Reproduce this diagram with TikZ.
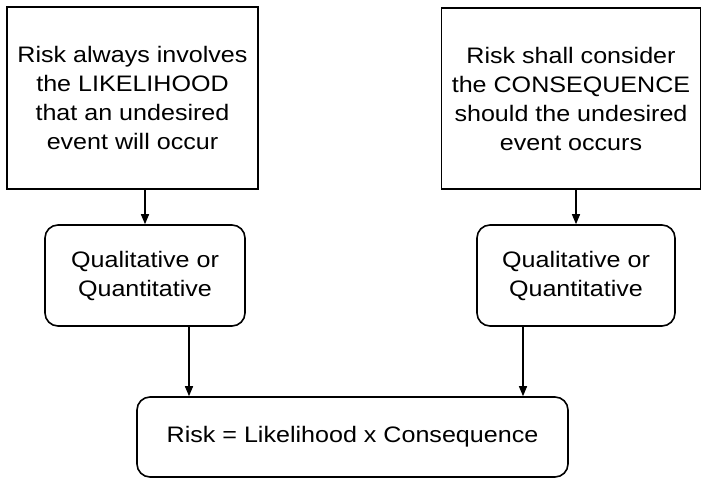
\documentclass[tikz,border=0pt]{standalone}
\usepackage{fontspec}
\setmainfont{Liberation Sans}[FakeStretch=1.12]
\usetikzlibrary{arrows.meta}
\begin{document}
\begin{tikzpicture}[x=1pt,y=-1pt,
  every node/.style={inner sep=0pt, align=center, font=\fontsize{22.4}{29}\selectfont},
  sqbox/.style={draw, line width=1.6pt, rectangle},
  rbox/.style={draw, line width=1.6pt, rectangle, rounded corners=13pt},
  arr/.style={draw, line width=1.4pt, -{Triangle[length=10pt,width=8pt]}}]
  \useasboundingbox (0,0) rectangle (703,479);
  % statement boxes
  \node[sqbox, minimum width=251pt, minimum height=182pt] (b1) at (132.5,98)
    {Risk always involves\\the LIKELIHOOD\\that an undesired\\event will occur};
  \node[sqbox, minimum width=259pt, minimum height=181pt] (b2) at (571,98.5)
    {Risk shall consider\\the CONSEQUENCE\\should the undesired\\event occurs};
  % measurement type boxes
  \node[rbox, minimum width=200pt, minimum height=101pt] (q1) at (145,275.5)
    {Qualitative or\\Quantitative};
  \node[rbox, minimum width=198pt, minimum height=101pt] (q2) at (576,275.5)
    {Qualitative or\\Quantitative};
  % result box
  \node[rbox, minimum width=431pt, minimum height=80pt] (r) at (352.5,437)
    {Risk = Likelihood x Consequence};
  % entry points on the result box
  \coordinate (e1) at (189,397);
  \coordinate (e2) at (523,397);
  % connectors
  \draw[arr] (b1.south -| q1.north) -- (q1.north);
  \draw[arr] (b2.south -| q2.north) -- (q2.north);
  \draw[arr] (q1.south -| e1) -- (r.north -| e1);
  \draw[arr] (q2.south -| e2) -- (r.north -| e2);
\end{tikzpicture}
\end{document}
